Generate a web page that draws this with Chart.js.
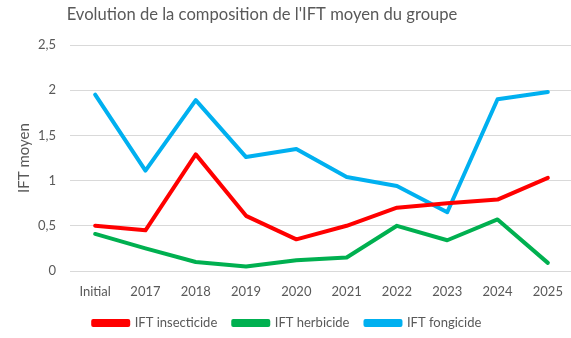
<!DOCTYPE html>
<html>
<head>
<meta charset="utf-8">
<script src="https://cdn.jsdelivr.net/npm/chart.js@4/dist/chart.umd.min.js"></script>
<style>
  html, body { margin: 0; padding: 0; background: #fff; overflow: hidden; }
  #wrap { width: 576px; height: 338px; }
</style>
</head>
<body>
<div id="wrap"><canvas id="iftChart" width="576" height="338"></canvas></div>
<script>
  const chartTitle = "Evolution de la composition de l'IFT moyen du groupe";
  const yTitle = 'IFT moyen';
  const years = ['Initial', '2017', '2018', '2019', '2020', '2021', '2022', '2023', '2024', '2025'];

  const insecticide = [0.50, 0.45, 1.29, 0.61, 0.35, 0.50, 0.70, 0.75, 0.79, 1.03];
  const herbicide   = [0.41, 0.25, 0.10, 0.05, 0.12, 0.15, 0.50, 0.34, 0.57, 0.09];
  const fongicide   = [1.95, 1.11, 1.89, 1.26, 1.35, 1.04, 0.94, 0.65, 1.90, 1.98];

  const FONT = 'Lato, "Noto Sans", sans-serif';
  const GREY = '#595959';

  function serie(label, data, color) {
    return {
      label: label,
      data: data,
      borderColor: color,
      backgroundColor: color,
      borderWidth: 4,
      borderCapStyle: 'round',
      borderJoinStyle: 'round',
      pointRadius: 0,
      pointHoverRadius: 0,
      tension: 0,
      fill: false
    };
  }

  // title drawn by hand so it can sit a bit left of the canvas centre
  const titlePlugin = {
    id: 'topTitle',
    afterDraw(chart) {
      const ctx = chart.ctx;
      ctx.save();
      ctx.font = '16.6px ' + FONT;
      ctx.fillStyle = GREY;
      ctx.textAlign = 'center';
      ctx.textBaseline = 'middle';
      ctx.fillText(chartTitle, 262, 15);
      ctx.restore();
    }
  };

  new Chart(document.getElementById('iftChart'), {
    type: 'line',
    data: {
      labels: years,
      datasets: [
        serie('IFT insecticide', insecticide, '#FF0000'),
        serie('IFT herbicide', herbicide, '#00B050'),
        serie('IFT fongicide', fongicide, '#00B0F0')
      ]
    },
    options: {
      responsive: false,
      animation: false,
      layout: { padding: { left: 0, right: 1.5, top: 45, bottom: 0 } },
      scales: {
        x: {
          offset: true,
          grid: { display: false, drawTicks: false },
          border: { display: false },
          ticks: { color: GREY, font: { family: FONT, size: 13 }, padding: 13, maxRotation: 0, autoSkip: false },
          afterFit(scale) { scale.height = 29.5; }
        },
        y: {
          min: 0,
          max: 2.5,
          grid: { color: '#D9D9D9', lineWidth: 1, drawTicks: false },
          border: { display: false },
          ticks: {
            stepSize: 0.5,
            color: GREY,
            font: { family: FONT, size: 13 },
            padding: 14,
            callback: (v) => String(v).replace('.', ',')
          },
          title: {
            display: true,
            text: yTitle,
            color: GREY,
            font: { family: FONT, size: 15 },
            padding: { top: 15, bottom: 0 }
          },
          afterFit(scale) { scale.width = 70; }
        }
      },
      plugins: {
        legend: {
          position: 'bottom',
          maxHeight: 37.5,
          labels: {
            boxWidth: 35,
            boxHeight: 4,
            padding: 16,
            color: GREY,
            font: { family: FONT, size: 13 }
          }
        },
        title: { display: false },
        tooltip: { enabled: false }
      }
    },
    plugins: [titlePlugin]
  });
</script>
</body>
</html>
